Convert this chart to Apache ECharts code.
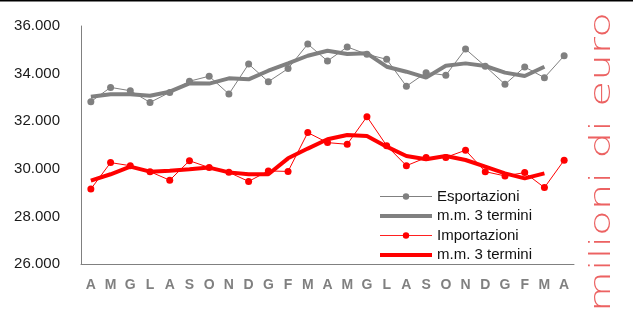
<!DOCTYPE html>
<html><head><meta charset="utf-8">
<script src="https://cdn.jsdelivr.net/npm/echarts@6/dist/echarts.min.js"></script>
<style>html,body{margin:0;padding:0;background:#fff}#c{width:633px;height:311px}</style>
</head><body><div id="c"></div>
<script>
const categories = ['A','M','G','L','A','S','O','N','D','G','F','M','A','M','G','L','A','S','O','N','D','G','F','M','A'];
const esportazioni = [32820,33420,33280,32790,33210,33680,33890,33140,34400,33660,34210,35240,34530,35120,34810,34600,33470,34040,33930,35030,34310,33550,34280,33830,34750];
const mmEsport = [33030,33130,33130,33070,33240,33590,33580,33800,33760,34120,34430,34750,34960,34820,34850,34290,34080,33830,34330,34430,34320,34040,33900,34290,null];
const importazioni = [29150,30260,30130,29880,29520,30340,30050,29850,29470,29910,29890,31520,31100,31030,32190,30970,30130,30470,30480,30780,29880,29700,29840,29210,30360];
const mmImport = [29500,29770,30090,29880,29920,29980,30050,29850,29770,29770,30440,30850,31240,31420,31380,30930,30540,30400,30540,30370,30090,29810,29600,29810,null];
const yTicks = [26000,28000,30000,32000,34000,36000];

const chart = echarts.init(document.getElementById('c'), null, {renderer:'canvas'});
const GRAY = '#808080', RED = '#ff0000';
chart.setOption({
  animation:false,
  backgroundColor:'#fff',
  grid:{left:81,right:59,top:26,bottom:47,containLabel:false},
  xAxis:{type:'category',data:categories,boundaryGap:true,
    axisLine:{lineStyle:{color:GRAY,width:1}},axisTick:{show:false},
    axisLabel:{color:GRAY,fontWeight:'bold',fontSize:14,fontFamily:'Liberation Sans, Arial, sans-serif',margin:14,interval:0}},
  yAxis:{type:'value',min:yTicks[0],max:yTicks[yTicks.length-1],interval:2000,
    axisLine:{show:true,lineStyle:{color:GRAY,width:1}},axisTick:{show:false},splitLine:{show:false},
    axisLabel:{color:'#1a1a1a',fontSize:15,fontFamily:'Liberation Sans, Arial, sans-serif',margin:21,
      formatter:v=>String(v).replace(/\B(?=(\d{3})+(?!\d))/g,'.')}},
  legend:{orient:'vertical',left:378,top:189,padding:0,itemGap:4.5,itemWidth:52,itemHeight:8,
    textStyle:{color:'#111',fontSize:15,fontFamily:'Liberation Sans, Arial, sans-serif'},
    formatter:n=>n.startsWith('mm')?'m.m. 3 termini':n,
    data:[
      {name:'Esportazioni',lineStyle:{width:1.2,color:GRAY},itemStyle:{color:GRAY}},
      {name:'mmE',itemStyle:{opacity:0},lineStyle:{width:4,color:GRAY}},
      {name:'Importazioni',lineStyle:{width:1.2,color:'#ff2020'},itemStyle:{color:RED}},
      {name:'mmI',itemStyle:{opacity:0},lineStyle:{width:4,color:RED}}
    ]},
  series:[
    {name:'mmE',type:'line',data:mmEsport,symbol:'none',lineStyle:{color:GRAY,width:4},itemStyle:{color:GRAY},z:2},
    {name:'Esportazioni',type:'line',data:esportazioni,symbol:'circle',symbolSize:7,lineStyle:{color:GRAY,width:1},itemStyle:{color:GRAY},z:3},
    {name:'mmI',type:'line',data:mmImport,symbol:'none',lineStyle:{color:RED,width:4},itemStyle:{color:RED},z:2},
    {name:'Importazioni',type:'line',data:importazioni,symbol:'circle',symbolSize:7,lineStyle:{color:RED,width:1},itemStyle:{color:RED},z:3}
  ],
  graphic:[
    {type:'rect',shape:{x:0,y:0,width:633,height:1.5},style:{fill:'#000'}},
    {type:'text',x:602,y:162,rotation:Math.PI/2,scaleX:1.45,scaleY:1,
      style:{text:'milioni di euro',fill:'#ec6262',fontSize:29,fontWeight:200,fontFamily:'DejaVu Sans ExtraLight, DejaVu Sans, sans-serif',align:'center',verticalAlign:'middle'}}
  ]
});
</script></body></html>
